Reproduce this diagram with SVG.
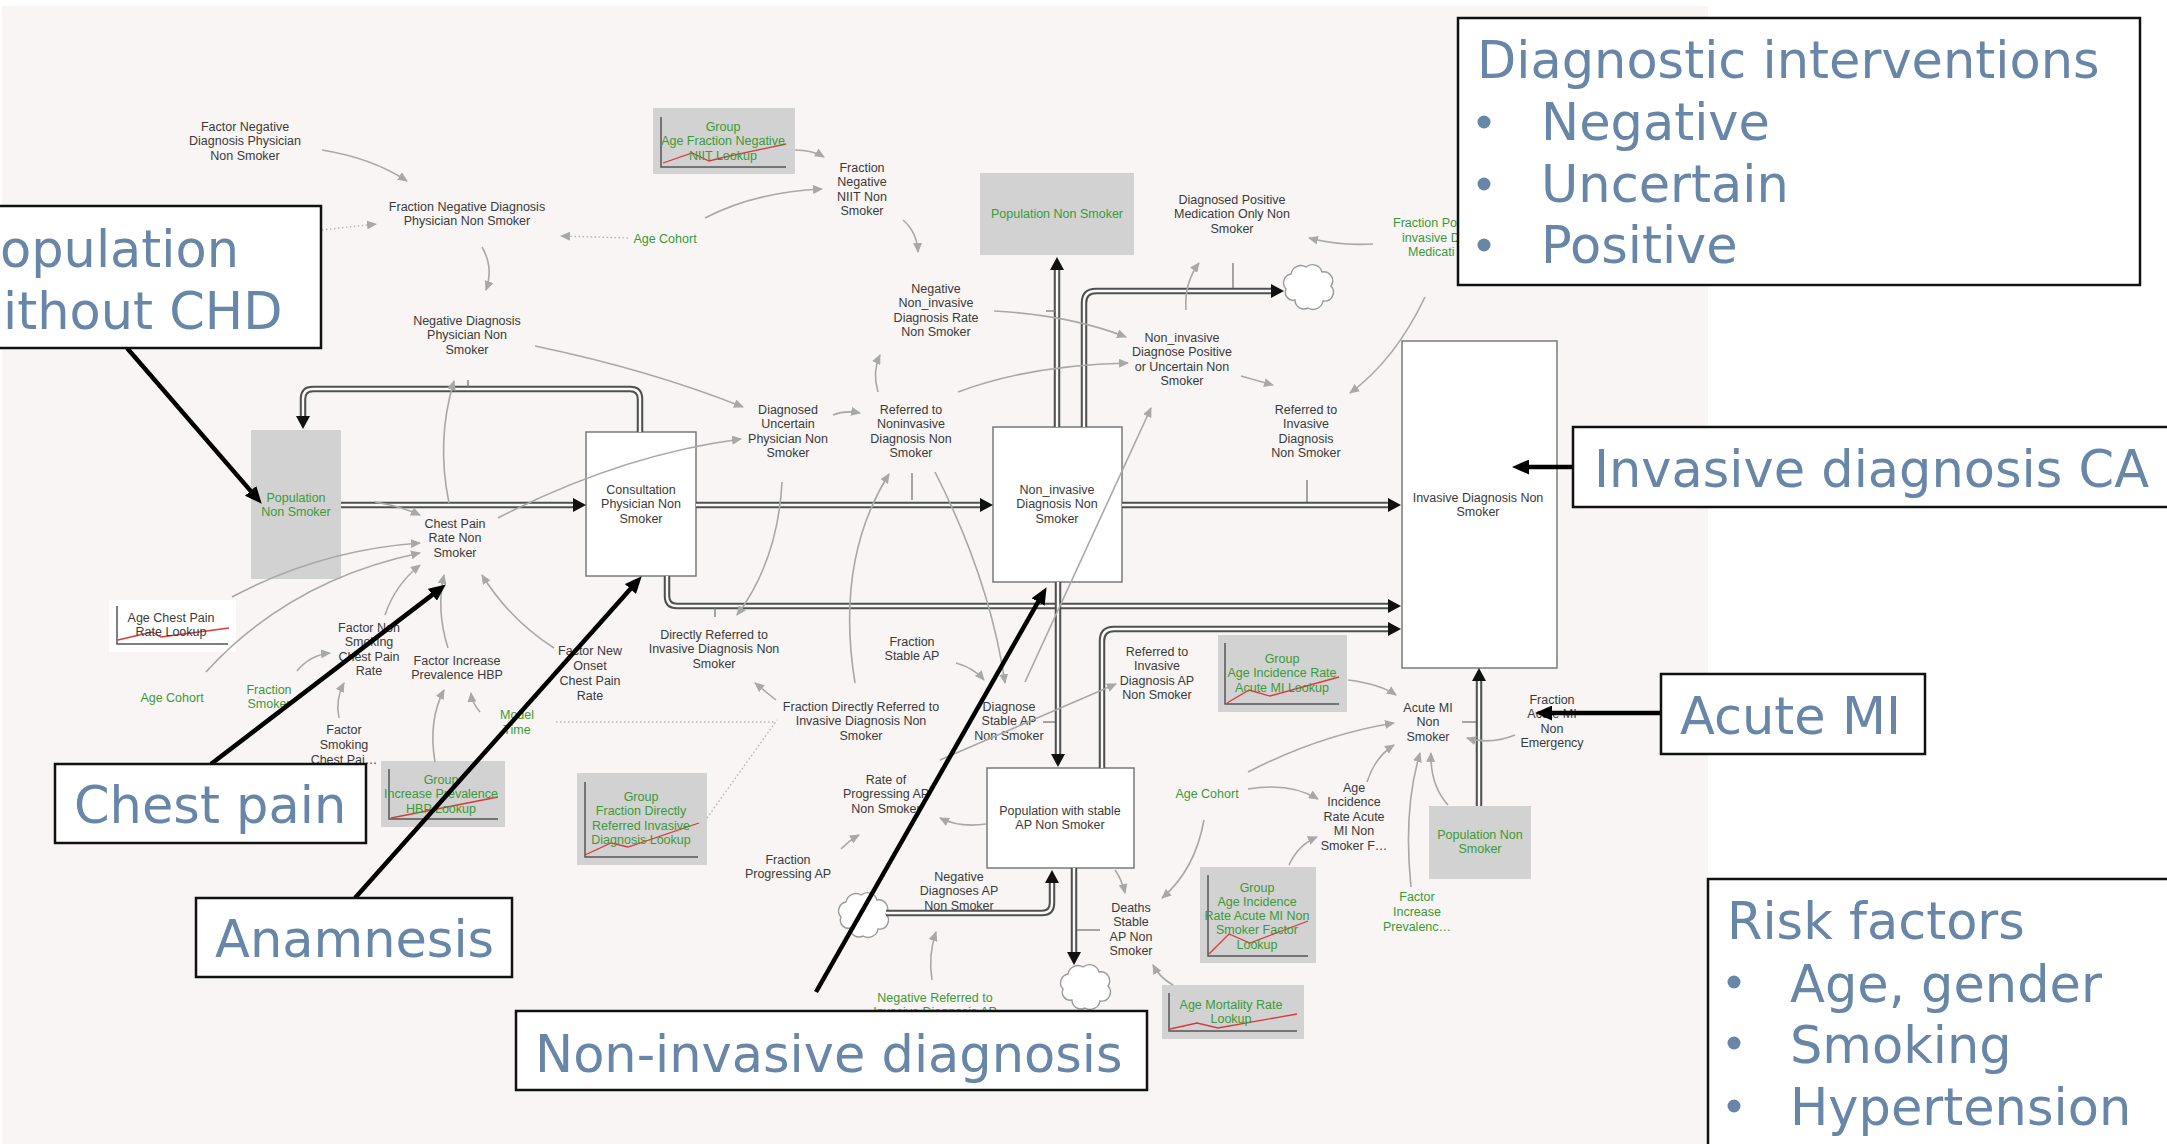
<svg xmlns="http://www.w3.org/2000/svg" xmlns:xlink="http://www.w3.org/1999/xlink" width="2167" height="1144" viewBox="0 0 2167 1144">
<style>
.t{font-family:"Liberation Sans",Arial,sans-serif;font-size:12.5px;fill:#3a3a3a;text-anchor:middle}
.tl{font-family:"Liberation Sans",Arial,sans-serif;font-size:12.5px;text-anchor:start}
.g{fill:#3a9a36}
.big{font-family:"DejaVu Sans",Verdana,sans-serif;font-size:51px;fill:#6886a7}
.lk{stroke:#a8a8a8;stroke-width:1.6;fill:none;marker-end:url(#ga)}
.dot{stroke:#b4b4b4;stroke-width:1.4;stroke-dasharray:1.5 2.5;fill:none}
.dota{stroke:#b4b4b4;stroke-width:1.4;stroke-dasharray:1.5 2.5;fill:none;marker-end:url(#ga)}
.po{stroke:#505050;stroke-width:6.5;fill:none}
.pi{stroke:#fafafa;stroke-width:2.4;fill:none}
.stock{fill:#fff;stroke:#7a7a7a;stroke-width:1.5}
.gbox{fill:#d2d2d2}
.ax{stroke:#555;stroke-width:1.5;fill:none}
.red{stroke:#d83a3a;stroke-width:1.3;fill:none}
.callout{fill:#fff;stroke:#111;stroke-width:2.5}
.cl{stroke:#000;stroke-width:4.5;fill:none;marker-end:url(#ba)}
.valve{stroke:#777;stroke-width:1.3;fill:none}
.cloud{fill:#fff;stroke:#9a9a9a;stroke-width:1.4}
.ah{fill:#111}
</style>
<defs>
<marker id="ga" markerUnits="userSpaceOnUse" markerWidth="10" markerHeight="9" refX="9" refY="4.5" orient="auto"><path d="M0,0 L10,4.5 L0,9 z" fill="#a8a8a8"/></marker>
<marker id="ba" markerUnits="userSpaceOnUse" markerWidth="17" markerHeight="15" refX="6" refY="7.5" orient="auto"><path d="M0,0 L17,7.5 L0,15 z" fill="#000"/></marker>
<path id="ahR" d="M-13,-7 L0,0 L-13,7 z"/>
<path id="ahU" d="M-7,13 L0,0 L7,13 z"/>
<path id="ahD" d="M-7,-13 L0,0 L7,-13 z"/>
<path id="cloudShape" d="M-13,13 A8,8 0 0 1 -22,2 A9,9 0 0 1 -17,-13 A10,10 0 0 1 -2,-20 A10,10 0 0 1 14,-15 A9,9 0 0 1 23,-1 A9,9 0 0 1 15,14 A10,10 0 0 1 0,21 A9,9 0 0 1 -13,13 Z"/>
</defs>
<rect x="0" y="0" width="2167" height="1144" fill="#ffffff"/>
<rect x="2" y="6" width="1706" height="1138" fill="#f8f5f4"/>

<!-- ===== nodes ===== -->
<g id="factor-negative-diagnosis-physician"><text class="t" x="245" y="130.5"><tspan x="245">Factor Negative</tspan><tspan x="245" dy="14.5">Diagnosis Physician</tspan><tspan x="245" dy="14.5">Non Smoker</tspan></text></g>
<g id="fraction-negative-diagnosis-physician"><text class="t" x="467" y="210.5"><tspan x="467">Fraction Negative Diagnosis</tspan><tspan x="467" dy="14.5">Physician Non Smoker</tspan></text></g>
<g id="age-cohort-top"><text class="t g" x="665" y="242.5">Age Cohort</text></g>
<g id="negative-diagnosis-physician"><text class="t" x="467" y="324.5"><tspan x="467">Negative Diagnosis</tspan><tspan x="467" dy="14.5">Physician Non</tspan><tspan x="467" dy="14.5">Smoker</tspan></text></g>
<g id="lookup-age-fraction-negative-niit">
<rect class="gbox" x="653" y="108" width="142" height="66"/>
<path class="ax" d="M661,117 V167 H786"/>
<path class="red" d="M663,163 L692,153 L709,161 L725,157 L786,144"/>
<text class="t g" x="723" y="130.5"><tspan x="723">Group</tspan><tspan x="723" dy="14.5">Age Fraction Negative</tspan><tspan x="723" dy="14.5">NIIT Lookup</tspan></text>
</g>
<g id="fraction-negative-niit"><text class="t" x="862" y="171.5"><tspan x="862">Fraction</tspan><tspan x="862" dy="14.6">Negative</tspan><tspan x="862" dy="14.6">NIIT Non</tspan><tspan x="862" dy="14.6">Smoker</tspan></text></g>
<g id="population-non-smoker-top">
<rect class="gbox" x="980" y="173" width="154" height="82"/>
<text class="t g" x="1057" y="217.5">Population Non Smoker</text>
</g>
<g id="negative-noninvasive-rate"><text class="t" x="936" y="292.5"><tspan x="936">Negative</tspan><tspan x="936" dy="14.6">Non_invasive</tspan><tspan x="936" dy="14.6">Diagnosis Rate</tspan><tspan x="936" dy="14.6">Non Smoker</tspan></text></g>
<g id="diagnosed-positive-medication"><text class="t" x="1232" y="203.5"><tspan x="1232">Diagnosed Positive</tspan><tspan x="1232" dy="14.5">Medication Only Non</tspan><tspan x="1232" dy="14.5">Smoker</tspan></text></g>
<g id="fraction-positive-medication"><text class="tl g" x="1393" y="227"><tspan x="1393">Fraction Po</tspan><tspan x="1402" dy="14.5">invasive D</tspan><tspan x="1408" dy="14.5">Medicati</tspan></text></g>
<g id="noninvasive-diagnose-positive"><text class="t" x="1182" y="341.5"><tspan x="1182">Non_invasive</tspan><tspan x="1182" dy="14.6">Diagnose Positive</tspan><tspan x="1182" dy="14.6">or Uncertain Non</tspan><tspan x="1182" dy="14.6">Smoker</tspan></text></g>
<g id="referred-invasive"><text class="t" x="1306" y="413.5"><tspan x="1306">Referred to</tspan><tspan x="1306" dy="14.6">Invasive</tspan><tspan x="1306" dy="14.6">Diagnosis</tspan><tspan x="1306" dy="14.6">Non Smoker</tspan></text></g>
<g id="diagnosed-uncertain"><text class="t" x="788" y="413.5"><tspan x="788">Diagnosed</tspan><tspan x="788" dy="14.6">Uncertain</tspan><tspan x="788" dy="14.6">Physician Non</tspan><tspan x="788" dy="14.6">Smoker</tspan></text></g>
<g id="referred-noninvasive"><text class="t" x="911" y="413.5"><tspan x="911">Referred to</tspan><tspan x="911" dy="14.6">Noninvasive</tspan><tspan x="911" dy="14.6">Diagnosis Non</tspan><tspan x="911" dy="14.6">Smoker</tspan></text></g>
<g id="population-non-smoker-left">
<rect class="gbox" x="251" y="430" width="90" height="149"/>
<text class="t g" x="296" y="501.5"><tspan x="296">Population</tspan><tspan x="296" dy="14.5">Non Smoker</tspan></text>
</g>
<g id="consultation-physician">
<rect class="stock" x="586" y="432" width="110" height="144"/>
<text class="t" x="641" y="493.5"><tspan x="641">Consultation</tspan><tspan x="641" dy="14.5">Physician Non</tspan><tspan x="641" dy="14.5">Smoker</tspan></text>
</g>
<g id="noninvasive-diagnosis">
<rect class="stock" x="993" y="427" width="129" height="155"/>
<text class="t" x="1057" y="493.5"><tspan x="1057">Non_invasive</tspan><tspan x="1057" dy="14.5">Diagnosis Non</tspan><tspan x="1057" dy="14.5">Smoker</tspan></text>
</g>
<g id="invasive-diagnosis">
<rect class="stock" x="1402" y="341" width="155" height="327"/>
<text class="t" x="1478" y="501.5"><tspan x="1478">Invasive Diagnosis Non</tspan><tspan x="1478" dy="14.5">Smoker</tspan></text>
</g>
<g id="chest-pain-rate"><text class="t" x="455" y="527.5"><tspan x="455">Chest Pain</tspan><tspan x="455" dy="14.5">Rate Non</tspan><tspan x="455" dy="14.5">Smoker</tspan></text></g>
<g id="lookup-age-chest-pain">
<rect x="109" y="600" width="127" height="52" fill="#ffffff"/>
<path class="ax" d="M117,606 V644 H228"/>
<path class="red" d="M118,640 L152,632 L161,637 L229,628"/>
<text class="t" x="171" y="621.5"><tspan x="171">Age Chest Pain</tspan><tspan x="171" dy="14.5">Rate Lookup</tspan></text>
</g>
<g id="factor-non-smoking-chest-pain"><text class="t" x="369" y="631.5"><tspan x="369">Factor Non</tspan><tspan x="369" dy="14.6">Smoking</tspan><tspan x="369" dy="14.6">Chest Pain</tspan><tspan x="369" dy="14.6">Rate</tspan></text></g>
<g id="factor-increase-prevalence-hbp"><text class="t" x="457" y="664.5"><tspan x="457">Factor Increase</tspan><tspan x="457" dy="14.5">Prevalence HBP</tspan></text></g>
<g id="factor-new-onset"><text class="t" x="590" y="654.5"><tspan x="590">Factor New</tspan><tspan x="590" dy="15">Onset</tspan><tspan x="590" dy="15">Chest Pain</tspan><tspan x="590" dy="15">Rate</tspan></text></g>
<g id="age-cohort-left"><text class="t g" x="172" y="701.5">Age Cohort</text></g>
<g id="fraction-smoker"><text class="t g" x="269" y="693.5"><tspan x="269">Fraction</tspan><tspan x="269" dy="14.5">Smoker</tspan></text></g>
<g id="factor-smoking-chest-pain"><text class="t" x="344" y="733.5"><tspan x="344">Factor</tspan><tspan x="344" dy="15">Smoking</tspan><tspan x="344" dy="15">Chest Pai…</tspan></text></g>
<g id="model-time"><text class="t g" x="517" y="718.5"><tspan x="517">Model</tspan><tspan x="517" dy="15">Time</tspan></text></g>
<g id="lookup-increase-prevalence-hbp">
<rect class="gbox" x="381" y="761" width="124" height="66"/>
<path class="ax" d="M389,769 V819 H498"/>
<path class="red" d="M391,818 L498,797"/>
<text class="t g" x="441" y="783.5"><tspan x="441">Group</tspan><tspan x="441" dy="14.5">Increase Prevalence</tspan><tspan x="441" dy="14.5">HBP Lookup</tspan></text>
</g>
<g id="directly-referred-invasive"><text class="t" x="714" y="638.5"><tspan x="714">Directly Referred to</tspan><tspan x="714" dy="14.5">Invasive Diagnosis Non</tspan><tspan x="714" dy="14.5">Smoker</tspan></text></g>
<g id="fraction-stable-ap"><text class="t" x="912" y="645.5"><tspan x="912">Fraction</tspan><tspan x="912" dy="14.5">Stable AP</tspan></text></g>
<g id="fraction-directly-referred"><text class="t" x="861" y="710.5"><tspan x="861">Fraction Directly Referred to</tspan><tspan x="861" dy="14.5">Invasive Diagnosis Non</tspan><tspan x="861" dy="14.5">Smoker</tspan></text></g>
<g id="diagnose-stable-ap"><text class="t" x="1009" y="710.5"><tspan x="1009">Diagnose</tspan><tspan x="1009" dy="14.5">Stable AP</tspan><tspan x="1009" dy="14.5">Non Smoker</tspan></text></g>
<g id="lookup-fraction-directly-referred">
<rect class="gbox" x="577" y="773" width="130" height="92"/>
<path class="ax" d="M585,782 V857 H698"/>
<path class="red" d="M585,855 L611,843 L628,847 L699,823"/>
<text class="t g" x="641" y="800.5"><tspan x="641">Group</tspan><tspan x="641" dy="14.6">Fraction Directly</tspan><tspan x="641" dy="14.6">Referred Invasive</tspan><tspan x="641" dy="14.6">Diagnosis Lookup</tspan></text>
</g>
<g id="rate-progressing-ap"><text class="t" x="886" y="783.5"><tspan x="886">Rate of</tspan><tspan x="886" dy="14.5">Progressing AP</tspan><tspan x="886" dy="14.5">Non Smoker</tspan></text></g>
<g id="fraction-progressing-ap"><text class="t" x="788" y="863.5"><tspan x="788">Fraction</tspan><tspan x="788" dy="14.5">Progressing AP</tspan></text></g>
<g id="population-stable-ap">
<rect class="stock" x="987" y="768" width="147" height="100"/>
<text class="t" x="1060" y="814.5"><tspan x="1060">Population with stable</tspan><tspan x="1060" dy="14.5">AP Non Smoker</tspan></text>
</g>
<g id="negative-diagnoses-ap"><text class="t" x="959" y="880.5"><tspan x="959">Negative</tspan><tspan x="959" dy="14.5">Diagnoses AP</tspan><tspan x="959" dy="14.5">Non Smoker</tspan></text></g>
<g id="negative-referred-invasive-ap"><text class="t g" x="935" y="1001.5"><tspan x="935">Negative Referred to</tspan><tspan x="935" dy="14">Invasive Diagnosis AP</tspan></text></g>
<g id="referred-invasive-ap"><text class="t" x="1157" y="655.5"><tspan x="1157">Referred to</tspan><tspan x="1157" dy="14.6">Invasive</tspan><tspan x="1157" dy="14.6">Diagnosis AP</tspan><tspan x="1157" dy="14.6">Non Smoker</tspan></text></g>
<g id="lookup-age-incidence-acute-mi">
<rect class="gbox" x="1218" y="635" width="129" height="77"/>
<path class="ax" d="M1225,643 V704 H1339"/>
<path class="red" d="M1227,703 L1249,690 L1270,696 L1339,677"/>
<text class="t g" x="1282" y="662.5"><tspan x="1282">Group</tspan><tspan x="1282" dy="14.5">Age Incidence Rate</tspan><tspan x="1282" dy="14.5">Acute MI Lookup</tspan></text>
</g>
<g id="acute-mi"><text class="t" x="1428" y="711.5"><tspan x="1428">Acute MI</tspan><tspan x="1428" dy="14.5">Non</tspan><tspan x="1428" dy="14.5">Smoker</tspan></text></g>
<g id="fraction-acute-mi-non-emergency"><text class="t" x="1552" y="703.5"><tspan x="1552">Fraction</tspan><tspan x="1552" dy="14.6">Acute MI</tspan><tspan x="1552" dy="14.6">Non</tspan><tspan x="1552" dy="14.6">Emergency</tspan></text></g>
<g id="age-cohort-right"><text class="t g" x="1207" y="797.5">Age Cohort</text></g>
<g id="age-incidence-rate"><text class="t" x="1354" y="791.5"><tspan x="1354">Age</tspan><tspan x="1354" dy="14.5">Incidence</tspan><tspan x="1354" dy="14.5">Rate Acute</tspan><tspan x="1354" dy="14.5">MI Non</tspan><tspan x="1354" dy="14.5">Smoker F…</tspan></text></g>
<g id="population-non-smoker-right">
<rect class="gbox" x="1429" y="806" width="102" height="73"/>
<text class="t g" x="1480" y="838.5"><tspan x="1480">Population Non</tspan><tspan x="1480" dy="14.5">Smoker</tspan></text>
</g>
<g id="lookup-age-incidence-factor">
<rect class="gbox" x="1200" y="867" width="116" height="96"/>
<path class="ax" d="M1208,875 V956 H1308"/>
<path class="red" d="M1209,954 L1229,934 L1250,943 L1308,921"/>
<text class="t g" x="1257" y="891.5"><tspan x="1257">Group</tspan><tspan x="1257" dy="14.3">Age Incidence</tspan><tspan x="1257" dy="14.3">Rate Acute MI Non</tspan><tspan x="1257" dy="14.3">Smoker Factor</tspan><tspan x="1257" dy="14.3">Lookup</tspan></text>
</g>
<g id="factor-increase-prevalence-right"><text class="t g" x="1417" y="900.5"><tspan x="1417">Factor</tspan><tspan x="1417" dy="15">Increase</tspan><tspan x="1417" dy="15">Prevalenc…</tspan></text></g>
<g id="deaths-stable-ap"><text class="t" x="1131" y="911.5"><tspan x="1131">Deaths</tspan><tspan x="1131" dy="14.5">Stable</tspan><tspan x="1131" dy="14.5">AP Non</tspan><tspan x="1131" dy="14.5">Smoker</tspan></text></g>
<g id="lookup-age-mortality">
<rect class="gbox" x="1162" y="985" width="142" height="54"/>
<path class="ax" d="M1169,993 V1031 H1297"/>
<path class="red" d="M1170,1029 L1197,1023 L1218,1028 L1297,1014"/>
<text class="t g" x="1231" y="1008.5"><tspan x="1231">Age Mortality Rate</tspan><tspan x="1231" dy="14.5">Lookup</tspan></text>
</g>
<g id="cloud-medication"><use href="#cloudShape" class="cloud" x="1308" y="287"/></g>
<g id="cloud-negative-ap"><use href="#cloudShape" class="cloud" x="863" y="915"/></g>
<g id="cloud-deaths"><use href="#cloudShape" class="cloud" x="1085" y="987"/></g>

<!-- ===== connectors ===== -->
<g id="connectors">
<g id="pipes">
<path class="po" d="M341,505 H574"/><path class="pi" d="M341,505 H574"/>
<path class="po" d="M640,432 V399 Q640,389 630,389 H313 Q303,389 303,399 V417"/><path class="pi" d="M640,432 V399 Q640,389 630,389 H313 Q303,389 303,399 V417"/>
<path class="po" d="M696,505 H981"/><path class="pi" d="M696,505 H981"/>
<path class="po" d="M667,576 V596 Q667,606 677,606 H1389"/><path class="pi" d="M667,576 V596 Q667,606 677,606 H1389"/>
<path class="po" d="M1122,505 H1389"/><path class="pi" d="M1122,505 H1389"/>
<path class="po" d="M1057,427 V269"/><path class="pi" d="M1057,427 V269"/>
<path class="po" d="M1084,427 V303 Q1084,291 1096,291 H1272"/><path class="pi" d="M1084,427 V303 Q1084,291 1096,291 H1272"/>
<path class="po" d="M1058,582 V755"/><path class="pi" d="M1058,582 V755"/>
<path class="po" d="M1102,768 V641 Q1102,629 1114,629 H1389"/><path class="pi" d="M1102,768 V641 Q1102,629 1114,629 H1389"/>
<path class="po" d="M886,913 H1042 Q1052,913 1052,903 V882"/><path class="pi" d="M886,913 H1042 Q1052,913 1052,903 V882"/>
<path class="po" d="M1074,868 V953"/><path class="pi" d="M1074,868 V953"/>
<path class="po" d="M1479,806 V680"/><path class="pi" d="M1479,806 V680"/>
<use href="#ahR" class="ah" x="586" y="505"/>
<use href="#ahD" class="ah" x="303" y="429"/>
<use href="#ahR" class="ah" x="993" y="505"/>
<use href="#ahR" class="ah" x="1401" y="606"/>
<use href="#ahR" class="ah" x="1401" y="505"/>
<use href="#ahU" class="ah" x="1057" y="257"/>
<use href="#ahR" class="ah" x="1284" y="291"/>
<use href="#ahD" class="ah" x="1058" y="767"/>
<use href="#ahR" class="ah" x="1401" y="629"/>
<use href="#ahU" class="ah" x="1052" y="870"/>
<use href="#ahD" class="ah" x="1074" y="965"/>
<use href="#ahU" class="ah" x="1479" y="668"/>
<path class="valve" d="M468,380 V388"/>
<path class="valve" d="M912,473 V500"/>
<path class="valve" d="M715,608 V617"/>
<path class="valve" d="M1307,480 V502"/>
<path class="valve" d="M1233,263 V288"/>
<path class="valve" d="M1046,311 H1055"/>
<path class="valve" d="M1043,722 H1055"/>
<path class="valve" d="M1077,930 H1100"/>
<path class="valve" d="M1462,722 H1476"/>
</g>
<g id="links">
<path class="lk" d="M322,150 Q372,158 407,181"/>
<path class="dota" d="M322,230 L376,224"/>
<path class="dota" d="M628,238 L561,236"/>
<path class="lk" d="M705,218 Q755,192 822,189"/>
<path class="lk" d="M795,150 Q812,150 824,157"/>
<path class="lk" d="M903,220 Q917,232 918,252"/>
<path class="lk" d="M482,247 Q494,268 486,290"/>
<path class="lk" d="M535,346 Q650,370 743,407"/>
<path class="lk" d="M833,415 Q845,410 860,413"/>
<path class="lk" d="M878,392 Q872,372 880,355"/>
<path class="lk" d="M958,392 Q1030,365 1128,363"/>
<path class="lk" d="M994,311 Q1070,315 1126,337"/>
<path class="lk" d="M1186,310 Q1184,283 1199,263"/>
<path class="lk" d="M1025,682 L1151,408"/>
<path class="lk" d="M498,518 Q620,455 741,439"/>
<path class="lk" d="M782,482 Q778,560 737,615"/>
<path class="lk" d="M935,472 Q990,580 1005,683"/>
<path class="lk" d="M855,683 Q835,560 889,474"/>
<path class="lk" d="M776,700 L755,683"/>
<path class="lk" d="M956,663 Q974,668 984,680"/>
<path class="lk" d="M940,760 L1116,684"/>
<path class="lk" d="M986,824 Q960,828 940,818"/>
<path class="lk" d="M841,849 Q850,840 859,835"/>
<path class="lk" d="M932,980 Q928,955 936,932"/>
<path class="lk" d="M1115,870 Q1122,880 1125,893"/>
<path class="lk" d="M1204,820 Q1195,870 1162,898"/>
<path class="lk" d="M1173,985 Q1160,978 1153,965"/>
<path class="lk" d="M1248,789 Q1290,782 1318,799"/>
<path class="lk" d="M1248,772 Q1320,735 1394,723"/>
<path class="lk" d="M1289,865 Q1298,845 1317,837"/>
<path class="lk" d="M1367,782 Q1375,757 1394,745"/>
<path class="lk" d="M1411,887 Q1403,810 1420,753"/>
<path class="lk" d="M1448,805 Q1430,785 1431,753"/>
<path class="lk" d="M1348,680 Q1380,684 1396,695"/>
<path class="lk" d="M1515,735 Q1490,745 1467,738"/>
<path class="lk" d="M1373,244 Q1340,246 1309,238"/>
<path class="lk" d="M1425,297 Q1395,360 1350,393"/>
<path class="lk" d="M1241,376 L1273,385"/>
<path class="lk" d="M232,597 Q320,550 420,543"/>
<path class="lk" d="M206,672 Q290,580 420,553"/>
<path class="lk" d="M385,615 Q395,585 420,565"/>
<path class="lk" d="M297,671 Q310,655 330,653"/>
<path class="lk" d="M339,718 Q335,700 344,683"/>
<path class="lk" d="M448,648 Q436,610 444,575"/>
<path class="lk" d="M435,762 Q428,720 444,690"/>
<path class="lk" d="M480,712 Q472,703 471,693"/>
<path class="lk" d="M554,648 Q510,620 482,575"/>
<path class="lk" d="M375,502 Q400,506 420,515"/>
<path class="lk" d="M449,503 Q436,440 454,381"/>
<path class="dot" d="M707,818 L777,720"/>
<path class="dot" d="M556,722 L776,722"/>
</g>
<g id="callout-lines">
<path class="cl" d="M127,348 L254.5,495.4"/>
<path class="cl" d="M211,764 L437.1,591.1"/>
<path class="cl" d="M355,898 L634.4,584.5"/>
<path class="cl" d="M816,992 L1041.1,596.7"/>
<path class="cl" d="M1573,467 L1523,467"/>
<path class="cl" d="M1661,713 L1546,713"/>
</g>
</g>

<!-- ===== callouts ===== -->
<g id="callout-population">
<rect class="callout" x="-10" y="206" width="331" height="142"/>
<text class="big" x="0" y="267">opulation</text>
<text class="big" x="3" y="329">ithout CHD</text>
</g>
<g id="callout-diagnostic">
<rect class="callout" x="1458" y="18" width="682" height="267"/>
<text class="big" x="1477" y="78">Diagnostic interventions</text>
<circle cx="1484" cy="122" r="6.5" fill="#6886a7"/>
<circle cx="1484" cy="184" r="6.5" fill="#6886a7"/>
<circle cx="1484" cy="245" r="6.5" fill="#6886a7"/>
<text class="big" x="1541" y="140">Negative</text>
<text class="big" x="1541" y="202">Uncertain</text>
<text class="big" x="1541" y="263">Positive</text>
</g>
<g id="callout-invasive">
<rect class="callout" x="1573" y="427" width="620" height="80"/>
<text class="big" x="1594" y="487">Invasive diagnosis CA</text>
</g>
<g id="callout-acute-mi">
<rect class="callout" x="1661" y="674" width="264" height="80"/>
<text class="big" x="1680" y="734">Acute MI</text>
</g>
<g id="callout-risk">
<rect class="callout" x="1708" y="879" width="500" height="300"/>
<text class="big" x="1727" y="939">Risk factors</text>
<circle cx="1734" cy="982" r="6.5" fill="#6886a7"/>
<circle cx="1734" cy="1043" r="6.5" fill="#6886a7"/>
<circle cx="1734" cy="1106" r="6.5" fill="#6886a7"/>
<text class="big" x="1790" y="1002">Age, gender</text>
<text class="big" x="1790" y="1063">Smoking</text>
<text class="big" x="1790" y="1125">Hypertension</text>
</g>
<g id="callout-chest-pain">
<rect class="callout" x="55" y="764" width="311" height="79"/>
<text class="big" x="74" y="823">Chest pain</text>
</g>
<g id="callout-anamnesis">
<rect class="callout" x="196" y="898" width="316" height="79"/>
<text class="big" x="215" y="957">Anamnesis</text>
</g>
<g id="callout-noninvasive">
<rect class="callout" x="516" y="1011" width="631" height="79"/>
<text class="big" x="535" y="1072">Non-invasive diagnosis</text>
</g>
</svg>
